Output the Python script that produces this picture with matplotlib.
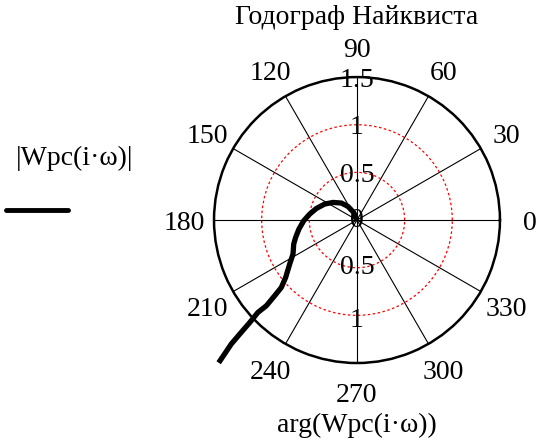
import numpy as np
import matplotlib.pyplot as plt

plt.rcParams['font.family'] = ['Liberation Serif', 'DejaVu Serif']

# Nyquist hodograph points (angle in degrees, magnitude)
phase_deg = [90, 113.5, 123.5, 132.5, 143.7, 153.6, 164.1, 172.8, 180.8, 188.8,
             195.8, 200.8, 208, 213.2, 218.8, 221.7, 222.6, 223.4, 223.0, 223.7,
             224.2, 224.6, 225.9]
magnitude = [0, 0.087, 0.171, 0.242, 0.312, 0.378, 0.443, 0.5, 0.559, 0.616,
             0.669, 0.71, 0.76, 0.844, 0.96, 1.063, 1.173, 1.309, 1.421, 1.556,
             1.716, 1.852, 2.085]

angle_ticks = list(range(0, 360, 30))
ring_values = [0.5, 1.0]
r_max = 1.5
title = 'Годограф Найквиста'
series_label = '|Wpc(i·ω)|'
angle_label = 'arg(Wpc(i·ω))'
fs = 20

fig = plt.figure(figsize=(5.39, 4.44), dpi=100)
ax = fig.add_axes([0.397, 0.1824, 0.5306, 0.644], projection='polar')

ax.set_ylim(0, r_max)
ax.set_thetagrids(angle_ticks, labels=[''] * len(angle_ticks))
ax.set_rgrids(ring_values, labels=['', ''])
ax.xaxis.grid(True, color='black', lw=0.8, ls='-')
ax.yaxis.grid(True, color='red', lw=0.9, ls=(0, (2, 2)))
ax.spines['polar'].set_linewidth(1.8)
ax.tick_params(length=0)

line, = ax.plot(np.radians(phase_deg), magnitude, color='black', lw=3.8,
                solid_capstyle='butt', solid_joinstyle='round')
line.set_clip_on(False)

# angle labels around the outer circle
for a in angle_ticks:
    ax.annotate(str(a), (np.radians(a), 1.81), xytext=(0, -3),
                textcoords='offset pixels', ha='center', va='center',
                fontsize=fs, annotation_clip=False)

# magnitude labels along the vertical axis
ax.text(np.radians(90), 1.46, '1.5', ha='center', va='center', fontsize=fs)
ax.text(np.radians(90), 0.97, '1', ha='center', va='center', fontsize=fs)
ax.text(np.radians(90), 0.47, '0.5', ha='center', va='center', fontsize=fs)
ax.text(0, 0, '0', ha='center', va='center', fontsize=fs)
ax.text(np.radians(270), 0.5, '0.5', ha='center', va='center', fontsize=fs)
ax.text(np.radians(270), 1.05, '1', ha='center', va='center', fontsize=fs)

fig.text(357 / 539, 1 - 17 / 444, title, ha='center', va='center', fontsize=fs)
fig.text(357 / 539, 1 - 425 / 444, angle_label, ha='center', va='center', fontsize=fs)

# legend entry on the left
fig.text(75 / 539, 1 - 158 / 444, series_label, ha='center', va='center', fontsize=fs)
fig.add_artist(plt.Line2D([6 / 539, 68 / 539], [1 - 210 / 444, 1 - 210 / 444],
                          color='black', lw=3.5, solid_capstyle='round',
                          transform=fig.transFigure))

plt.savefig('out.png', dpi=100)
